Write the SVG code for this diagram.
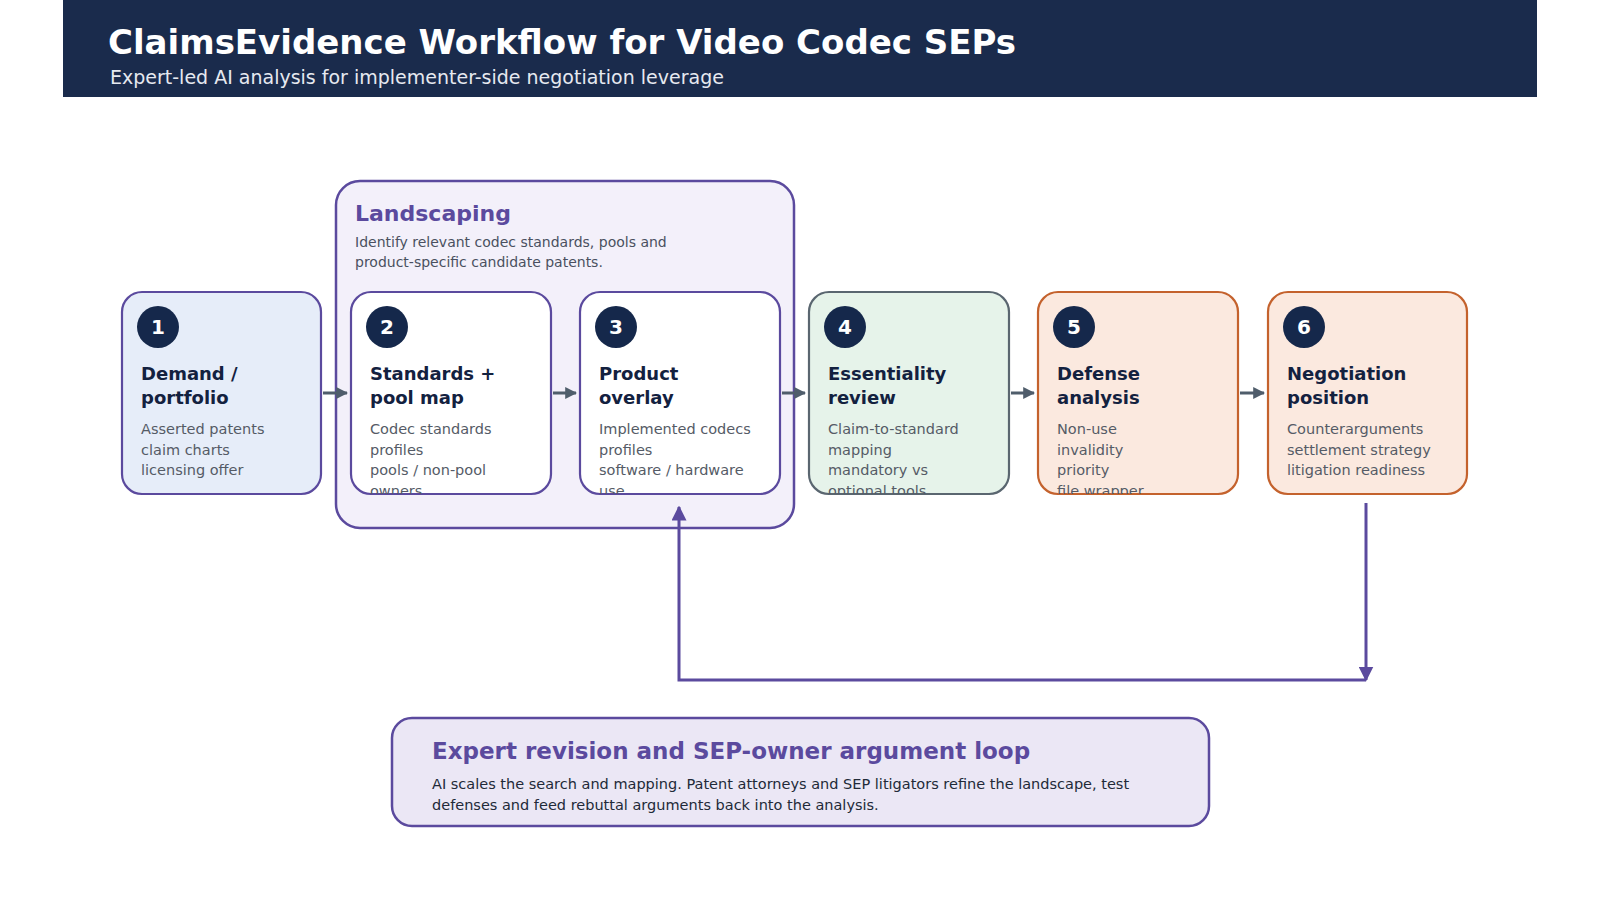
<svg xmlns="http://www.w3.org/2000/svg" width="1600" height="900" viewBox="0 0 1600 900">
<style>
text{font-family:"DejaVu Sans",sans-serif}
.t{font-size:18px;font-weight:bold;fill:#13213f}
.b{font-size:14.5px;fill:#555b66}
.n{font-size:20px;font-weight:bold;fill:#fff;text-anchor:middle}
.c{fill:#15284b}
.node{stroke-width:2.2}
.ar{stroke:#4f5d6b;stroke-width:3;fill:none}
</style>
<defs>
<marker id="ga" viewBox="0 0 10 10" refX="9" refY="5" markerWidth="4" markerHeight="4" orient="auto"><path d="M0,0L10,5L0,10z" fill="#4f5d6b"/></marker>
<marker id="pa" viewBox="0 0 10 10" refX="9" refY="5" markerWidth="5" markerHeight="5" orient="auto"><path d="M0,0L10,5L0,10z" fill="#5b4a9e"/></marker>
<clipPath id="k1"><rect x="122" y="292" width="199" height="202" rx="20"/></clipPath>
<clipPath id="k2"><rect x="351" y="292" width="200" height="202" rx="20"/></clipPath>
<clipPath id="k3"><rect x="580" y="292" width="200" height="202" rx="20"/></clipPath>
<clipPath id="k4"><rect x="809" y="292" width="200" height="202" rx="20"/></clipPath>
<clipPath id="k5"><rect x="1038" y="292" width="200" height="202" rx="20"/></clipPath>
<clipPath id="k6"><rect x="1268" y="292" width="199" height="202" rx="20"/></clipPath>
</defs>
<rect width="1600" height="900" fill="#fff"/>
<g id="header">
<rect x="63" y="0" width="1474" height="97" fill="#1a2b4c"/>
<text x="108" y="54" font-size="34" font-weight="bold" fill="#fff">ClaimsEvidence Workflow for Video Codec SEPs</text>
<text x="110" y="84" font-size="19" fill="#e6e9f0">Expert-led AI analysis for implementer-side negotiation leverage</text>
</g>
<g id="landscaping">
<rect x="336" y="181" width="458" height="347" rx="24" fill="#f3f0fa" stroke="#5b4a9e" stroke-width="2.5"/>
<text x="355" y="221" font-size="22" font-weight="bold" fill="#5b4a9e">Landscaping</text>
<text x="355" y="247" font-size="14" fill="#4a5060">Identify relevant codec standards, pools and</text>
<text x="355" y="267" font-size="14" fill="#4a5060">product-specific candidate patents.</text>
</g>
<g id="connectors">
<line class="ar" x1="323" y1="393" x2="347" y2="393" marker-end="url(#ga)"/>
<line class="ar" x1="553" y1="393" x2="576" y2="393" marker-end="url(#ga)"/>
<line class="ar" x1="782" y1="393" x2="805" y2="393" marker-end="url(#ga)"/>
<line class="ar" x1="1011" y1="393" x2="1034" y2="393" marker-end="url(#ga)"/>
<line class="ar" x1="1240" y1="393" x2="1264" y2="393" marker-end="url(#ga)"/>
<polyline points="1366,503 1366,680" fill="none" stroke="#5b4a9e" stroke-width="3" marker-end="url(#pa)"/>
<polyline points="1366,680 679,680 679,507" fill="none" stroke="#5b4a9e" stroke-width="3" marker-end="url(#pa)"/>
</g>
<g id="n1">
<rect class="node" x="122" y="292" width="199" height="202" rx="20" fill="#e6edf9" stroke="#5b4a9e"/>
<circle class="c" cx="158" cy="327" r="21"/><text class="n" x="158" y="334">1</text>
<text class="t" x="141" y="380">Demand /</text><text class="t" x="141" y="404">portfolio</text>
<g clip-path="url(#k1)"><text class="b" x="141" y="434">Asserted patents</text><text class="b" x="141" y="455">claim charts</text><text class="b" x="141" y="475">licensing offer</text></g>
</g>
<g id="n2">
<rect class="node" x="351" y="292" width="200" height="202" rx="20" fill="#fff" stroke="#5b4a9e"/>
<circle class="c" cx="387" cy="327" r="21"/><text class="n" x="387" y="334">2</text>
<text class="t" x="370" y="380">Standards +</text><text class="t" x="370" y="404">pool map</text>
<g clip-path="url(#k2)"><text class="b" x="370" y="434">Codec standards</text><text class="b" x="370" y="455">profiles</text><text class="b" x="370" y="475">pools / non-pool</text><text class="b" x="370" y="496">owners</text></g>
</g>
<g id="n3">
<rect class="node" x="580" y="292" width="200" height="202" rx="20" fill="#fff" stroke="#5b4a9e"/>
<circle class="c" cx="616" cy="327" r="21"/><text class="n" x="616" y="334">3</text>
<text class="t" x="599" y="380">Product</text><text class="t" x="599" y="404">overlay</text>
<g clip-path="url(#k3)"><text class="b" x="599" y="434">Implemented codecs</text><text class="b" x="599" y="455">profiles</text><text class="b" x="599" y="475">software / hardware</text><text class="b" x="599" y="496">use</text></g>
</g>
<g id="n4">
<rect class="node" x="809" y="292" width="200" height="202" rx="20" fill="#e6f3ea" stroke="#5a6670"/>
<circle class="c" cx="845" cy="327" r="21"/><text class="n" x="845" y="334">4</text>
<text class="t" x="828" y="380">Essentiality</text><text class="t" x="828" y="404">review</text>
<g clip-path="url(#k4)"><text class="b" x="828" y="434">Claim-to-standard</text><text class="b" x="828" y="455">mapping</text><text class="b" x="828" y="475">mandatory vs</text><text class="b" x="828" y="496">optional tools</text></g>
</g>
<g id="n5">
<rect class="node" x="1038" y="292" width="200" height="202" rx="20" fill="#fbe9df" stroke="#c4622d"/>
<circle class="c" cx="1074" cy="327" r="21"/><text class="n" x="1074" y="334">5</text>
<text class="t" x="1057" y="380">Defense</text><text class="t" x="1057" y="404">analysis</text>
<g clip-path="url(#k5)"><text class="b" x="1057" y="434">Non-use</text><text class="b" x="1057" y="455">invalidity</text><text class="b" x="1057" y="475">priority</text><text class="b" x="1057" y="496">file wrapper</text></g>
</g>
<g id="n6">
<rect class="node" x="1268" y="292" width="199" height="202" rx="20" fill="#fbe9df" stroke="#c4622d"/>
<circle class="c" cx="1304" cy="327" r="21"/><text class="n" x="1304" y="334">6</text>
<text class="t" x="1287" y="380">Negotiation</text><text class="t" x="1287" y="404">position</text>
<g clip-path="url(#k6)"><text class="b" x="1287" y="434">Counterarguments</text><text class="b" x="1287" y="455">settlement strategy</text><text class="b" x="1287" y="475">litigation readiness</text></g>
</g>
<g id="loop">
<rect x="392" y="718" width="817" height="108" rx="20" fill="#ebe7f5" stroke="#5b4a9e" stroke-width="2.5"/>
<text x="432" y="759" font-size="23" font-weight="bold" fill="#5b4a9e">Expert revision and SEP-owner argument loop</text>
<text x="432" y="789" font-size="14.5" fill="#222a38">AI scales the search and mapping. Patent attorneys and SEP litigators refine the landscape, test</text>
<text x="432" y="810" font-size="14.5" fill="#222a38">defenses and feed rebuttal arguments back into the analysis.</text>
</g>
</svg>
